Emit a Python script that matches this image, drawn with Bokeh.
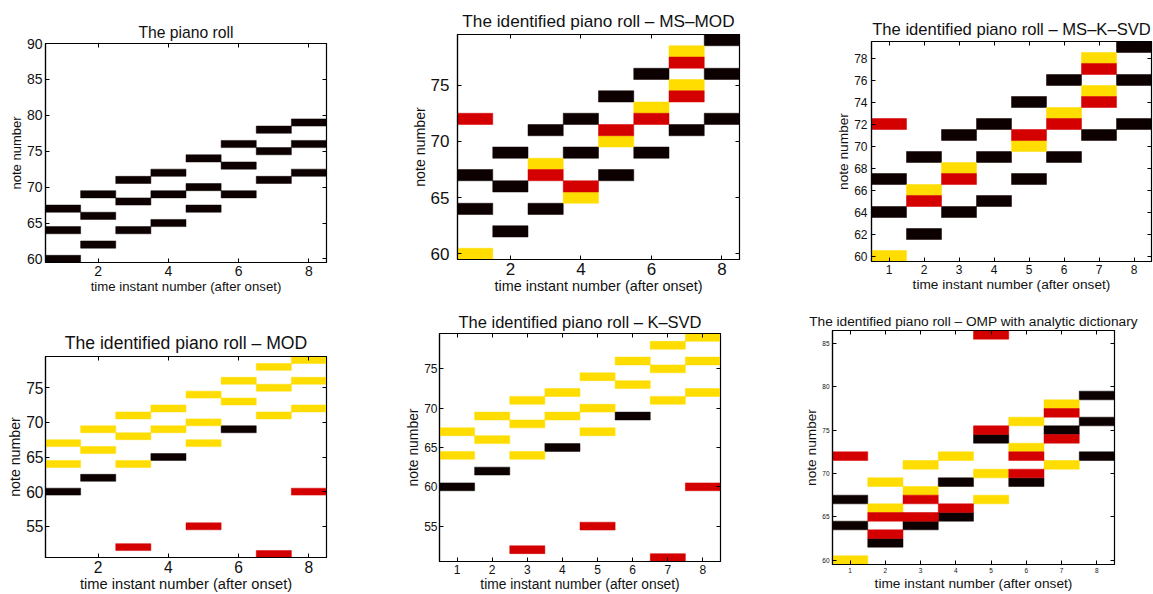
from bokeh.plotting import figure
from bokeh.models import ColumnDataSource, FixedTicker, LinearAxis, Range1d
from bokeh.layouts import column, row
from bokeh.embed import file_html
from bokeh.resources import INLINE

# ---------------- data ----------------
times = [1, 2, 3, 4, 5, 6, 7, 8]

truth_notes = [[60, 64, 67], [62, 66, 69], [64, 68, 71], [65, 69, 72],
               [67, 70, 74], [69, 73, 76], [71, 75, 78], [72, 76, 79]]

msmod_correct = [[64, 67], [62, 66, 69], [64, 71], [69, 72], [67, 74], [69, 76], [71], [72, 76, 79]]
msmod_missed = [[60], [], [68], [65], [70], [73], [75, 78], []]
msmod_false = [[72], [], [67], [66], [71], [72], [74, 77], []]

msksvd_correct = [[64, 67], [62, 69], [64, 71], [65, 69, 72], [67, 74], [69, 76], [71], [72, 76, 79]]
msksvd_missed = [[60], [66], [68], [], [70], [73], [75, 78], []]
msksvd_false = [[72], [65], [67], [], [71], [72], [74, 77], []]

mod_correct = [[60], [62], [], [65], [], [69], [], []]
mod_missed = [[64, 67], [66, 69], [64, 68, 71], [69, 72], [67, 70, 74], [73, 76], [71, 75, 78], [72, 76, 79]]
mod_false = [[], [], [52], [], [55], [], [51], [60]]

ksvd_correct = [[60], [62], [], [65], [], [69], [], []]
ksvd_missed = [[64, 67], [66, 69], [64, 68, 71], [69, 72], [67, 70, 74], [73, 76], [71, 75, 78], [72, 76, 79]]
ksvd_false = [[], [], [52], [], [55], [], [51], [60]]

omp_correct = [[64, 67], [62], [64], [65, 69], [74], [69], [75], [72, 76, 79]]
omp_missed = [[60], [66, 69], [68, 71], [72], [67, 70], [73, 76], [71, 78], []]
omp_false = [[72], [63, 65], [65, 67], [66], [75, 86], [70, 72], [74, 77], []]

C_CORRECT = "#0d0000"
C_MISSED = "#ffdd00"
C_FALSE = "#d40000"

FONT = "Liberation Sans"
XLABEL = "time instant number (after onset)"
YLABEL = "note number"


def flatten(per_time):
    xs, ys = [], []
    for t, notes in zip(times, per_time):
        for n in notes:
            xs.append(t)
            ys.append(n)
    return ColumnDataSource(dict(t=xs, n=ys))


def make_fig(title, w, h, bl, br, bt, bb, y0, y1, xticks, yticks, fs, layers):
    p = figure(width=w, height=h, output_backend="svg", toolbar_location=None,
               x_range=Range1d(0.5, 8.5), y_range=Range1d(y0, y1),
               min_border_left=bl, min_border_right=br, min_border_top=bt, min_border_bottom=bb,
               background_fill_color="white", border_fill_color="white")
    p.grid.visible = False
    p.outline_line_color = "black"
    p.outline_line_width = 1.2
    p.title.text = title
    p.title.align = "center"
    p.title.text_font = FONT
    p.title.text_font_style = "normal"
    p.title.text_font_size = fs["title"]
    p.title.text_color = "#111111"
    p.title.standoff = fs["tstand"]

    for src, color in layers:
        p.rect(x="t", y="n", width=1, height=1, source=src,
               fill_color=color, line_color=color, line_width=0.5)

    for ax, ticks, lab, lsize, stand in ((p.xaxis[0], xticks, XLABEL, fs["xlabel"], 3),
                                         (p.yaxis[0], yticks, YLABEL, fs["ylabel"], fs["ystand"])):
        ax.ticker = FixedTicker(ticks=ticks)
        ax.minor_tick_line_color = None
        ax.major_tick_in = 4
        ax.major_tick_out = 0
        ax.major_tick_line_color = "black"
        ax.axis_line_color = "black"
        ax.axis_line_width = 1.2
        ax.major_label_text_font = FONT
        ax.major_label_text_font_size = fs["tick"]
        ax.major_label_text_color = "#111111"
        ax.major_label_standoff = stand
        ax.axis_label = lab
        ax.axis_label_text_font = FONT
        ax.axis_label_text_font_style = "normal"
        ax.axis_label_text_font_size = lsize
        ax.axis_label_text_color = "#111111"
        ax.axis_label_standoff = 0

    for place, ticks in (("right", yticks), ("above", xticks)):
        ax = LinearAxis(ticker=FixedTicker(ticks=ticks), major_tick_in=4, major_tick_out=0,
                        minor_tick_line_color=None, major_label_standoff=0,
                        major_label_text_font_size="0px",
                        major_label_overrides={t: "" for t in ticks},
                        axis_label_standoff=0,
                        axis_line_color="black", major_tick_line_color="black")
        p.add_layout(ax, place)
    return p


f1 = make_fig("The piano roll", 380, 300, 45, 54, 43, 38, 59.5, 90,
              [2, 4, 6, 8], [60, 65, 70, 75, 80, 85, 90],
              dict(title="15.7px", tstand=6, tick="14px", xlabel="13.2px", ylabel="13px", ystand=3),
              [(flatten(truth_notes), C_CORRECT)])

f2 = make_fig("The identified piano roll – MS–MOD", 390, 300, 77, 31, 34, 41, 59.5, 79.5,
              [2, 4, 6, 8], [60, 65, 70, 75],
              dict(title="17.2px", tstand=7, tick="17px", xlabel="14.4px", ylabel="14.2px", ystand=8),
              [(flatten(msmod_correct), C_CORRECT), (flatten(msmod_missed), C_MISSED),
               (flatten(msmod_false), C_FALSE)])

f3 = make_fig("The identified piano roll – MS–K–SVD", 383, 300, 101, 2, 41, 39, 59.5, 79.5,
              times, [60, 62, 64, 66, 68, 70, 72, 74, 76, 78],
              dict(title="16.6px", tstand=6, tick="12px", xlabel="13.7px", ylabel="13.7px", ystand=4),
              [(flatten(msksvd_correct), C_CORRECT), (flatten(msksvd_missed), C_MISSED),
               (flatten(msksvd_false), C_FALSE)])

f4 = make_fig("The identified piano roll – MOD", 380, 294, 45, 54, 56, 32, 50.5, 79.5,
              [2, 4, 6, 8], [55, 60, 65, 70, 75],
              dict(title="17.6px", tstand=7, tick="15.6px", xlabel="14.7px", ylabel="14.2px", ystand=2),
              [(flatten(mod_correct), C_CORRECT), (flatten(mod_missed), C_MISSED),
               (flatten(mod_false), C_FALSE)])

f5 = make_fig("The identified piano roll – K–SVD", 390, 294, 59, 50, 33, 30, 50.5, 79.5,
              times, [55, 60, 65, 70, 75],
              dict(title="16.5px", tstand=5, tick="12px", xlabel="13.8px", ylabel="13.9px", ystand=2),
              [(flatten(ksvd_correct), C_CORRECT), (flatten(ksvd_missed), C_MISSED),
               (flatten(ksvd_false), C_FALSE)])

f6 = make_fig("The identified piano roll – OMP with analytic dictionary", 383, 294, 62, 39, 30, 30,
              59.5, 86.5, times, [60, 65, 70, 75, 80, 85],
              dict(title="13.7px", tstand=4, tick="6.5px", xlabel="13.7px", ylabel="13.7px", ystand=3),
              [(flatten(omp_correct), C_CORRECT), (flatten(omp_missed), C_MISSED),
               (flatten(omp_false), C_FALSE)])

layout = column(row(column(f1), column(f2), column(f3)),
                row(column(f4), column(f5), column(f6)))

open("out.html", "w").write(file_html(layout, INLINE))
